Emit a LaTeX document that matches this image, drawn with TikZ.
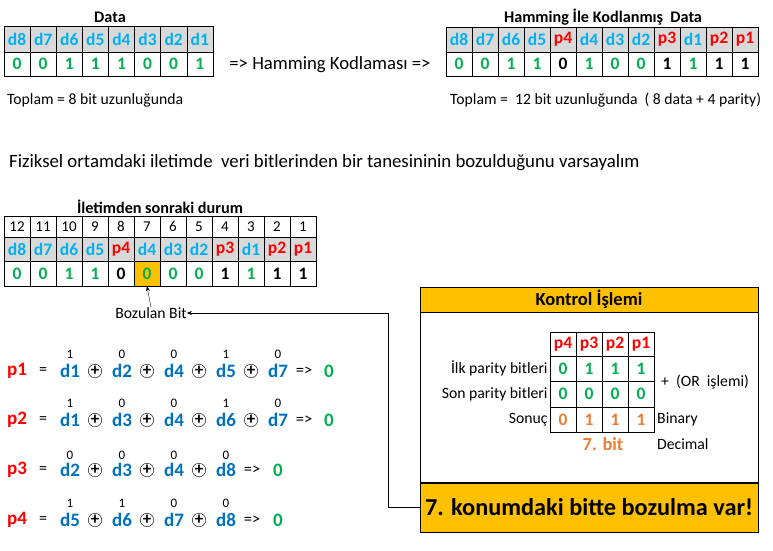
\documentclass[tikz,border=0pt]{standalone}
\usepackage{fontspec}
\setmainfont{Carlito}
\usepackage{xcolor}
\usetikzlibrary{arrows.meta, positioning}
\definecolor{lblue}{HTML}{00B0F0}
\definecolor{eblue}{HTML}{0070C0}
\definecolor{pred}{HTML}{FF0000}
\definecolor{vgreen}{HTML}{00B050}
\definecolor{orng}{HTML}{ED7D31}
\definecolor{gold}{HTML}{FFC000}
\definecolor{hgray}{HTML}{D9D9D9}

\begin{document}
\begin{tikzpicture}[x=1pt, y=-1pt,
    cell/.style={draw, minimum width=26pt, minimum height=24pt, inner sep=0pt, font=\fontsize{17.5}{19}\selectfont\bfseries},
    txt/.style={inner sep=0pt, font=\fontsize{15.7}{17}\selectfont},
    title/.style={inner sep=0pt, font=\fontsize{16.2}{18}\selectfont\bfseries},
    term/.style={inner sep=0pt, text=eblue, font=\fontsize{19}{21}\selectfont\bfseries},
    bitnum/.style={inner sep=0pt, font=\fontsize{13}{15}\selectfont},
    xorop/.style={circle, draw, thin, inner sep=0pt, minimum size=13.5pt, font=\fontsize{17}{17}\selectfont\bfseries},
    arr/.style={-{Stealth[length=5pt, width=4pt]}}]
    \useasboundingbox (0,0) rectangle (773,550);

    % data before coding
    \node[title] (dtitle) at (110,17) {Data};
    \foreach \lab/\v [count=\i] in {d8/0,d7/0,d6/1,d5/1,d4/1,d3/0,d2/0,d1/1} {
        \node[cell, fill=hgray, text=lblue, minimum width=26.1pt, minimum height=26pt] (dh\i) at ({4+26.1*\i-13.05}, 39) {\lab};
        \node[cell, text=vgreen, minimum width=26.1pt] (dv\i) at ({4+26.1*\i-13.05}, 64) {\v};
    }
    \node[txt, anchor=west] (dsum) at (7,100) {Toplam = 8 bit uzunluğunda};
    \node[txt, font=\fontsize{18.7}{20}\selectfont] (coding) at (330,65) {=> Hamming Kodlaması =>};

    % coded data
    \node[title] (htitle) at (603,17) {Hamming İle Kodlanmış\ \ Data};
    \foreach \lab/\lc/\v/\vc [count=\i] in {d8/lblue/0/vgreen,d7/lblue/0/vgreen,d6/lblue/1/vgreen,d5/lblue/1/vgreen,p4/pred/0/black,d4/lblue/1/vgreen,d3/lblue/0/vgreen,d2/lblue/0/vgreen,p3/pred/1/black,d1/lblue/1/vgreen,p2/pred/1/black,p1/pred/1/black} {
        \node[cell, fill=hgray, text=\lc, minimum height=25pt] (hh\i) at ({446+26*\i-13}, 39.5) {\lab};
        \node[cell, text=\vc] (hv\i) at ({446+26*\i-13}, 64) {\v};
    }
    \node[txt, anchor=west] (hsum) at (450,100) {Toplam =\ \ 12 bit uzunluğunda\ \ ( 8 data + 4 parity)};

    \node[txt, anchor=west, font=\fontsize{18.8}{20}\selectfont] (note) at (9,163) {Fiziksel ortamdaki iletimde\ \ veri bitlerinden bir tanesininin bozulduğunu varsayalım};

    % after transmission
    \node[title] (mtitle) at (160,207) {İletimden sonraki durum};
    \foreach \lab/\lc/\v/\vc/\f [count=\i] in {d8/lblue/0/vgreen/white,d7/lblue/0/vgreen/white,d6/lblue/1/vgreen/white,d5/lblue/1/vgreen/white,p4/pred/0/black/white,d4/lblue/0/vgreen/gold,d3/lblue/0/vgreen/white,d2/lblue/0/vgreen/white,p3/pred/1/black/white,d1/lblue/1/vgreen/white,p2/pred/1/black/white,p1/pred/1/black/white} {
        \pgfmathtruncatemacro{\pos}{13-\i}
        \node[cell, minimum height=21pt, font=\fontsize{15}{17}\selectfont] (mn\i) at ({4+26*\i-13}, 226.5) {\pos};
        \node[cell, fill=hgray, text=\lc] (mh\i) at ({4+26*\i-13}, 249) {\lab};
        \node[cell, fill=\f, text=\vc, minimum height=25pt] (mv\i) at ({4+26*\i-13}, 273.5) {\v};
    }
    \node[txt] (bozulan) at (151,313) {Bozulan Bit};
    \draw[arr] (bozulan.north) -- (mv6.south);

    % parity equations
    \foreach \r/\y in {1/371,2/420,3/470,4/520} {
        \node[term, text=pred, anchor=west] (p\r) at (7,\y) {p\r};
        \node[txt, font=\fontsize{16}{18}\selectfont] (eq\r) at (43,\y) {=};
    }
    \foreach \t/\b [count=\k] in {d1/1,d2/0,d4/0,d5/1,d7/0} {
        \node[term] (a1-\k) at ({70+52*(\k-1)},371) {\t};
        \node[bitnum] (b1-\k) at ({70+52*(\k-1)},354) {\b};
    }
    \foreach \t/\b [count=\k] in {d1/1,d3/0,d4/0,d6/1,d7/0} {
        \node[term] (a2-\k) at ({70+52*(\k-1)},420) {\t};
        \node[bitnum] (b2-\k) at ({70+52*(\k-1)},403) {\b};
    }
    \foreach \t/\b [count=\k] in {d2/0,d3/0,d4/0,d8/0} {
        \node[term] (a3-\k) at ({70+52*(\k-1)},470) {\t};
        \node[bitnum] (b3-\k) at ({70+52*(\k-1)},455) {\b};
    }
    \foreach \t/\b [count=\k] in {d5/1,d6/1,d7/0,d8/0} {
        \node[term] (a4-\k) at ({70+52*(\k-1)},520) {\t};
        \node[bitnum] (b4-\k) at ({70+52*(\k-1)},503) {\b};
    }
    \foreach \k in {1,...,4} {
        \node[xorop] (o1-\k) at ({95+52*(\k-1)},371) {+};
        \node[xorop] (o2-\k) at ({95+52*(\k-1)},420) {+};
    }
    \foreach \k in {1,...,3} {
        \node[xorop] (o3-\k) at ({95+52*(\k-1)},470) {+};
        \node[xorop] (o4-\k) at ({95+52*(\k-1)},520) {+};
    }
    \node[txt, font=\fontsize{16.5}{18}\selectfont] (r1) at (304,371) {=>};
    \node[term, text=vgreen] (z1) at (329,371) {0};
    \node[txt, font=\fontsize{16.5}{18}\selectfont] (r2) at (304,420) {=>};
    \node[term, text=vgreen] (z2) at (329,420) {0};
    \node[txt, font=\fontsize{16.5}{18}\selectfont] (r3) at (252,470) {=>};
    \node[term, text=vgreen] (z3) at (278,470) {0};
    \node[txt, font=\fontsize{16.5}{18}\selectfont] (r4) at (252,520) {=>};
    \node[term, text=vgreen] (z4) at (278,520) {0};

    % check box
    \node[draw, fill=gold, minimum width=338pt, minimum height=25pt, font=\fontsize{18.5}{20}\selectfont\bfseries] (ktitle) at (589,299.5) {Kontrol İşlemi};
    \node[draw, minimum width=338pt, minimum height=170pt, anchor=north] (kbody) at (ktitle.south) {};
    \node[draw, fill=gold, minimum width=338pt, minimum height=49pt, anchor=north, font=\fontsize{24.3}{27}\selectfont\bfseries] (kmsg) at (kbody.south) {7. konumdaki bitte bozulma var!};
    \foreach \lab/\u/\w/\s [count=\i] in {p4/0/0/0,p3/1/0/1,p2/1/0/1,p1/1/0/1} {
        \node[cell, text=pred] (kh\i) at ({550+26*\i-13}, 344) {\lab};
        \node[cell, text=vgreen, minimum height=25pt] (ka\i) at ({550+26*\i-13}, 368.5) {\u};
        \node[cell, text=vgreen, minimum height=26pt] (kb\i) at ({550+26*\i-13}, 394) {\w};
        \node[cell, text=orng, minimum height=25pt] (kc\i) at ({550+26*\i-13}, 419.5) {\s};
    }
    \node[txt, anchor=east] (ilk) at ([xshift=-2pt]ka1.west) {İlk parity bitleri};
    \node[txt, anchor=east] (son) at ([xshift=-2pt]kb1.west) {Son parity bitleri};
    \node[txt, anchor=east] (sonuc) at ([xshift=-2pt]kc1.west) {Sonuç};
    \node[txt, anchor=west] (orop) at (661,382) {+\ \ (OR\ \ işlemi)};
    \node[txt, anchor=west] (binary) at (657,419.5) {Binary};
    \node[title, text=orng, font=\fontsize{18.4}{20}\selectfont\bfseries] (seven) at (603,444) {7. bit};
    \node[txt, anchor=west] (decimal) at (657,444) {Decimal};

    \coordinate (turn) at (388,313);
    \draw[arr] (kmsg.west) -| (turn) -- (bozulan.east);
\end{tikzpicture}
\end{document}
